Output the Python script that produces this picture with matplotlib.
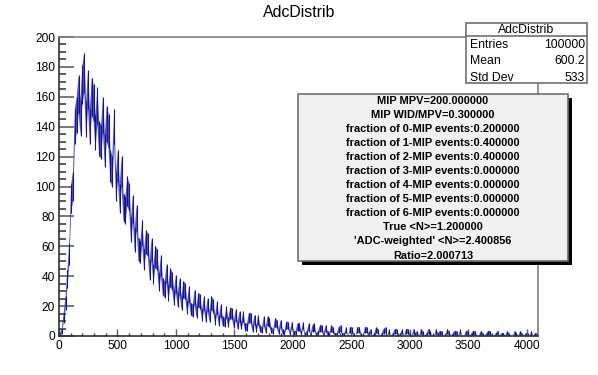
import numpy as np
import matplotlib.pyplot as plt
from matplotlib.patches import Rectangle
from matplotlib.lines import Line2D
from matplotlib.ticker import MultipleLocator

plt.rcParams['font.family'] = ['Liberation Sans', 'DejaVu Sans']

# %% data (16-unit bins from 0 to 4096)
bin_edges = np.arange(0, 4096 + 16, 16)
counts = [
    1, 3, 12, 22, 38, 55, 92, 100, 140, 148, 162, 146, 168, 176, 145, 165,
    140, 160, 156, 136, 154, 132, 130, 148, 124, 142, 137, 114, 110, 140, 100, 114,
    92, 110, 86, 84, 97, 93, 71, 85, 64, 79, 58, 56, 69, 51, 63, 61,
    44, 58, 41, 53, 51, 36, 47, 33, 31, 42, 29, 39, 37, 26, 35, 24,
    33, 22, 31, 30, 19, 28, 18, 17, 26, 16, 24, 23, 14, 22, 13, 21,
    13, 22, 20, 11, 19, 10, 17, 10, 9, 16, 9, 15, 15, 8, 14, 7,
    13, 7, 13, 6, 6, 12, 12, 5, 11, 5, 11, 5, 4, 10, 4, 10,
    9, 4, 3, 9, 8, 3, 8, 3, 2, 7, 7, 2, 7, 2, 2, 6,
    6, 2, 7, 1, 2, 6, 1, 5, 6, 1, 2, 5, 5, 1, 5, 2,
    1, 5, 4, 1, 1, 4, 5, 1, 1, 4, 0, 4, 4, 1, 0, 4,
    4, 1, 0, 4, 4, 1, 3, 0, 1, 4, 3, 0, 1, 3, 4, 0,
    3, 0, 1, 3, 3, 0, 1, 3, 0, 3, 3, 1, 0, 3, 1, 2,
    0, 3, 2, 0, 1, 3, 2, 0, 0, 3, 1, 2, 2, 0, 0, 3,
    2, 0, 1, 2, 2, 0, 3, 0, 0, 2, 2, 0, 1, 2, 2, 0,
    0, 2, 1, 0, 1, 2, 2, 0, 0, 1, 2, 0, 1, 1, 0, 2,
    1, 0, 0, 2, 1, 0, 2, 1, 0, 1, 1, 0, 2, 0, 1, 1,
]

hist_title = 'AdcDistrib'
stats_labels = ['Entries', 'Mean', 'Std Dev']
stats_values = ['100000', '600.2', '533']
info_lines = [
    'MIP MPV=200.000000',
    'MIP WID/MPV=0.300000',
    'fraction of 0-MIP events:0.200000',
    'fraction of 1-MIP events:0.400000',
    'fraction of 2-MIP events:0.400000',
    'fraction of 3-MIP events:0.000000',
    'fraction of 4-MIP events:0.000000',
    'fraction of 5-MIP events:0.000000',
    'fraction of 6-MIP events:0.000000',
    'True <N>=1.200000',
    "'ADC-weighted' <N>=2.400856",
    'Ratio=2.000713',
]

# %% plot
W, H = 598, 375
fig = plt.figure(figsize=(W / 100, H / 100), dpi=100)
ax = fig.add_axes([59 / W, 1 - 336 / H, (538 - 59) / W, (336 - 37) / H])

counts = np.array(counts, dtype=float)
centers = 0.5 * (bin_edges[:-1] + bin_edges[1:])
err = np.sqrt(counts)
ax.fill_between(centers, counts - err, counts + err, facecolor='#5454ba', edgecolor='none', lw=0)
ax.vlines(centers, counts - err, counts + err, color='#14148e', lw=0.8)

ax.set_xlim(0, 4096)
ax.set_ylim(0, 200)
ax.xaxis.set_major_locator(MultipleLocator(500))
ax.xaxis.set_minor_locator(MultipleLocator(100))
ax.yaxis.set_major_locator(MultipleLocator(20))
ax.yaxis.set_minor_locator(MultipleLocator(5))
ax.tick_params(axis='x', which='major', direction='in', length=5, width=1, color='#606060',
               labelsize=8.6, pad=3, top=False)
ax.tick_params(axis='x', which='minor', direction='in', length=2.5, width=1, color='#404040', top=False)
ax.tick_params(axis='y', which='major', direction='in', length=10.5, width=1.2, color='#606060',
               labelsize=8.6, pad=3, right=False)
ax.tick_params(axis='y', which='minor', direction='in', length=5, width=1.2, color='#404040', right=False)
for s in ['left', 'bottom']:
    ax.spines[s].set_color('#303030')
    ax.spines[s].set_linewidth(1.2)
for s in ['top', 'right']:
    ax.spines[s].set_color('#808080')
    ax.spines[s].set_linewidth(1.2)

fig.text(299 / W, 1 - 12.5 / H, hist_title, ha='center', va='center', fontsize=11.4)


def px(x, y):
    return x / W, 1 - y / H


# stats box
x0, y0, x1, y1 = 466, 23, 587, 83
fig.add_artist(Rectangle(px(x0, y1), (x1 - x0) / W, (y1 - y0) / H, transform=fig.transFigure,
                         facecolor='white', edgecolor='#707070', lw=1.2, zorder=5))
fig.add_artist(Line2D([x0 / W, x1 / W], [1 - 36 / H, 1 - 36 / H], transform=fig.transFigure,
                      color='#707070', lw=1.2, zorder=6))
fig.text(*px(526, 30), hist_title, ha='center', va='center', fontsize=8.8, zorder=7)
for i, (lab, val) in enumerate(zip(stats_labels, stats_values)):
    yy = 45 + 16.5 * i
    fig.text(*px(470, yy), lab, ha='left', va='center', fontsize=8.8, zorder=7)
    fig.text(*px(585, yy), val, ha='right', va='center', fontsize=8.8, zorder=7)

# info pave with shadow
x0, y0, x1, y1 = 298, 94, 568, 261
fig.add_artist(Rectangle(px(x0 + 4, y1 + 4), (x1 - x0) / W, (y1 - y0) / H, transform=fig.transFigure,
                         facecolor='black', edgecolor='none', zorder=5))
fig.add_artist(Rectangle(px(x0, y1), (x1 - x0) / W, (y1 - y0) / H, transform=fig.transFigure,
                         facecolor='#f0f0f0', edgecolor='#707070', lw=1.2, zorder=6))
for i, line in enumerate(info_lines):
    fig.text(*px(433, 100.5 + 14.1 * i), line, ha='center', va='center', fontsize=7.9,
             fontweight='bold', zorder=7)

fig.savefig('out.png', dpi=100)
